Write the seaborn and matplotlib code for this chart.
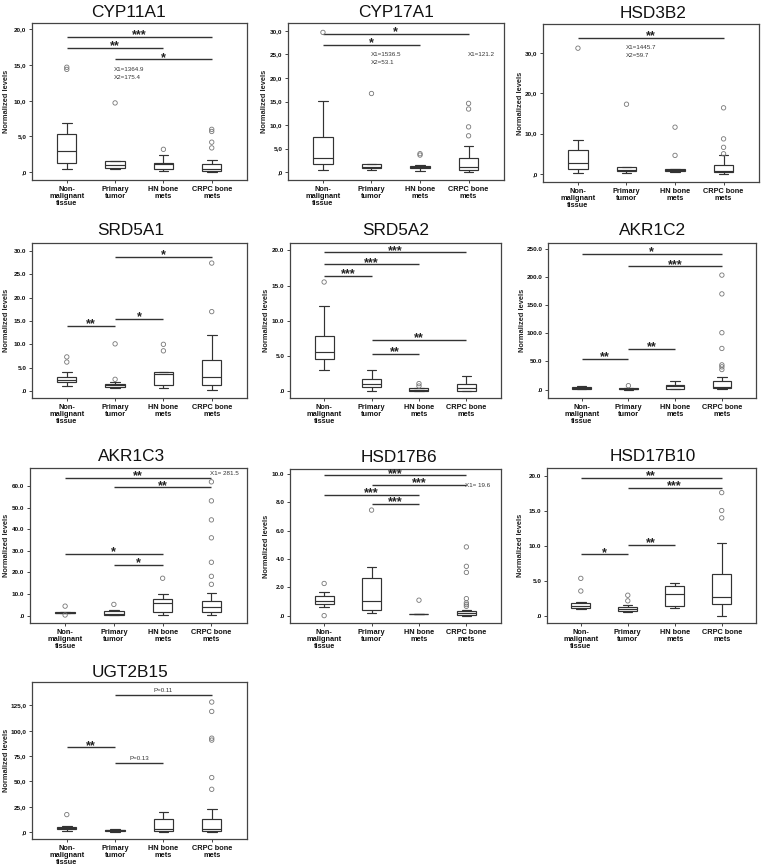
import numpy as np
import pandas as pd
import matplotlib
matplotlib.use("Agg")
import matplotlib.pyplot as plt
import seaborn as sns

# ---------------- data ----------------
groups = ["Non-\nmalignant\ntissue", "Primary\ntumor", "HN bone\nmets", "CRPC bone\nmets"]

# five-number summaries per group: [low whisker, Q1, median, Q3, high whisker]
CYP11A1_box = [[0.5, 1.3, 2.9, 5.4, 6.9], [0.5, 0.65, 1.0, 1.5, 1.5], [0.1, 0.4, 1.2, 1.3, 2.4], [0.0, 0.15, 0.5, 1.2, 1.65]]
CYP11A1_out = [[14.7, 14.4], [9.7], [3.2], [6.0, 5.7, 4.2, 3.4]]
CYP11A1_sig = [(0, 3, 19.0, "***"), (0, 2, 17.4, "**"), (1, 3, 15.8, "*")]
CYP11A1_notes = [(1, 14.4, "X1=1364.9"), (1, 13.3, "X2=175.4")]

CYP17A1_box = [[0.5, 1.6, 2.9, 7.4, 15.1], [0.5, 0.9, 1.0, 1.6, 1.6], [0.3, 0.8, 1.1, 1.3, 1.5], [0.0, 0.35, 1.0, 3.0, 5.5]]
CYP17A1_out = [[29.7], [16.7], [3.9, 3.6], [7.7, 9.6, 13.4, 14.6]]
CYP17A1_sig = [(0, 3, 29.4, "*"), (0, 2, 27.1, "*")]
CYP17A1_notes = [(1, 25.0, "X1=1536.5"), (1, 23.4, "X2=53.1"), (3, 25.0, "X1=121.2")]

HSD3B2_box = [[0.25, 1.3, 2.6, 6.0, 8.3], [0.35, 0.8, 1.1, 1.6, 1.6], [0.4, 0.65, 1.0, 1.3, 1.3], [0.05, 0.4, 0.8, 2.1, 4.6]]
HSD3B2_out = [[31.2], [17.3], [11.6, 4.6], [16.4, 8.7, 6.6, 5.0]]
HSD3B2_sig = [(0, 3, 33.8, "**")]
HSD3B2_notes = [(1, 31.4, "X1=1445.7"), (1, 29.4, "X2=59.7")]

SRD5A1_box = [[1.0, 1.85, 2.4, 2.9, 4.1], [0.7, 0.9, 1.2, 1.6, 2.0], [0.7, 1.3, 3.6, 4.0, 4.0], [0.3, 1.3, 3.1, 6.7, 11.9]]
SRD5A1_out = [[7.3, 6.2], [10.1, 2.5], [10.0, 8.6], [17.0, 27.4]]
SRD5A1_sig = [(1, 3, 28.7, "*"), (1, 2, 15.5, "*"), (0, 1, 14.0, "**")]
SRD5A1_notes = []

SRD5A2_box = [[3.0, 4.5, 5.6, 7.8, 12.05], [0.0, 0.6, 1.05, 1.75, 2.95], [0.0, 0.05, 0.2, 0.4, 0.4], [0.0, 0.05, 0.4, 1.0, 2.15]]
SRD5A2_out = [[15.5], [], [1.05, 0.7], []]
SRD5A2_sig = [(0, 3, 19.7, "***"), (0, 2, 18.0, "***"), (0, 1, 16.4, "***"), (1, 3, 7.3, "**"), (1, 2, 5.3, "**")]
SRD5A2_notes = []

AKR1C2_box = [[0.6, 1.8, 3.5, 4.8, 6.5], [0.1, 0.3, 1.0, 2.0, 2.5], [0.6, 1.8, 6.0, 8.9, 16.1], [0.5, 2.4, 5.4, 15.5, 22.6]]
AKR1C2_out = [[], [7.0], [], [203.6, 170.2, 101.2, 73.2, 44.0, 40.5, 35.7]]
AKR1C2_sig = [(0, 3, 241.7, "*"), (1, 3, 219.0, "***"), (1, 2, 72.0, "**"), (0, 1, 54.0, "**")]
AKR1C2_notes = []

AKR1C3_box = [[1.0, 1.2, 1.4, 1.7, 1.9], [0.1, 0.3, 0.6, 2.1, 2.4], [0.3, 1.8, 5.8, 7.7, 10.0], [0.3, 1.7, 4.0, 6.7, 10.7]]
AKR1C3_out = [[4.4, 0.3], [5.2], [17.3], [14.5, 18.2, 24.7, 36.0, 44.3, 53.1, 61.9]]
AKR1C3_sig = [(0, 3, 63.9, "**"), (1, 3, 59.3, "**"), (0, 2, 28.5, "*"), (1, 2, 23.4, "*")]
AKR1C3_notes = [(3, 65.9, "X1= 281.5")]

HSD17B6_box = [[0.6, 0.85, 1.0, 1.4, 1.65], [0.2, 0.4, 1.0, 2.67, 3.43], [0.08, 0.1, 0.12, 0.15, 0.15], [0.0, 0.07, 0.17, 0.33, 0.38]]
HSD17B6_out = [[2.27, 0.0], [7.45], [1.09], [0.66, 0.78, 0.9, 1.2, 3.05, 3.48, 4.85]]
HSD17B6_sig = [(0, 3, 9.9, "***"), (1, 3, 9.25, "***"), (0, 2, 8.53, "***"), (1, 2, 7.9, "***")]
HSD17B6_notes = [(3, 9.17, "X1= 19.6")]

HSD17B10_box = [[1.05, 1.2, 1.5, 1.9, 2.1], [0.6, 0.75, 1.05, 1.3, 1.6], [1.15, 1.5, 3.2, 4.3, 4.7], [0.0, 1.8, 2.7, 6.0, 10.4]]
HSD17B10_out = [[5.4, 3.6], [3.0, 2.2], [], [17.6, 15.05, 14.0]]
HSD17B10_sig = [(0, 3, 19.7, "**"), (1, 3, 18.3, "***"), (1, 2, 10.2, "**"), (0, 1, 8.8, "*")]
HSD17B10_notes = []

UGT2B15_box = [[0.7, 3.0, 4.0, 5.0, 5.9], [0.3, 0.7, 1.5, 2.3, 2.6], [0.3, 1.3, 2.6, 13.2, 20.1], [0.0, 1.3, 3.3, 12.5, 22.4]]
UGT2B15_out = [[17.2], [], [], [42.2, 53.8, 90.8, 92.7, 119.1, 128.4]]
UGT2B15_sig = [(1, 3, 135.3, "P=0.11"), (0, 1, 83.5, "**"), (1, 2, 68.3, "P=0.13")]
UGT2B15_notes = []

# ---------------- layout ----------------
sns.set_theme(style="white")
plt.rcParams["font.family"] = ["Liberation Sans", "DejaVu Sans"]

W, H = 764, 868
fig = plt.figure(figsize=(W / 100, H / 100), dpi=100)

panels = [
    # name, box, out, sig, notes, ylim, yticks, comma, (left, right, top, bottom) px, title x px, title pad, ylabel x px
    ("CYP11A1", CYP11A1_box, CYP11A1_out, CYP11A1_sig, CYP11A1_notes, (-1.1, 20.9), np.arange(0, 21, 5), True, (32, 247, 23, 180), 129, 4.3, 7),
    ("CYP17A1", CYP17A1_box, CYP17A1_out, CYP17A1_sig, CYP17A1_notes, (-1.7, 31.7), np.arange(0, 31, 5), True, (288, 504, 23, 180), 396, 4.3, 265),
    ("HSD3B2", HSD3B2_box, HSD3B2_out, HSD3B2_sig, HSD3B2_notes, (-2.0, 37.2), np.arange(0, 31, 10), True, (543, 759, 24, 182), 653, 4.3, 520),
    ("SRD5A1", SRD5A1_box, SRD5A1_out, SRD5A1_sig, SRD5A1_notes, (-1.5, 31.7), np.arange(0, 31, 5), False, (32, 247, 243, 398), 131, 5.5, 7),
    ("SRD5A2", SRD5A2_box, SRD5A2_out, SRD5A2_sig, SRD5A2_notes, (-1.0, 21.05), np.arange(0, 21, 5), False, (290, 501, 243, 398), 396, 5.5, 267),
    ("AKR1C2", AKR1C2_box, AKR1C2_out, AKR1C2_sig, AKR1C2_notes, (-14.9, 260.7), np.arange(0, 251, 50), False, (548, 756, 243, 398), 653, 5.5, 522),
    ("AKR1C3", AKR1C3_box, AKR1C3_out, AKR1C3_sig, AKR1C3_notes, (-3.4, 68.3), np.arange(0, 61, 10), False, (30, 247, 468, 623), 132, 5.0, 7),
    ("HSD17B6", HSD17B6_box, HSD17B6_out, HSD17B6_sig, HSD17B6_notes, (-0.52, 10.35), np.arange(0, 11, 2), False, (290, 501, 469, 623), 399, 5.0, 267),
    ("HSD17B10", HSD17B10_box, HSD17B10_out, HSD17B10_sig, HSD17B10_notes, (-0.95, 21.1), np.arange(0, 21, 5), False, (547, 756, 468, 623), 653, 5.0, 520),
    ("UGT2B15", UGT2B15_box, UGT2B15_out, UGT2B15_sig, UGT2B15_notes, (-6.9, 148.2), np.arange(0, 126, 25), True, (32, 247, 682, 839), 130, 3.5, 7),
]

EDGE = "#333333"


def fmt(v, comma):
    s = f"{v:.1f}"
    if s.startswith("0"):
        s = s[1:]
    return s.replace(".", ",") if comma else s


for (name, box, out, sig, notes, ylim, yticks, comma, rect, tx, tpad, ylx) in panels:
    l, r, t, b = rect
    ax = fig.add_axes([l / W, 1 - b / H, (r - l) / W, (b - t) / H])

    df = pd.DataFrame({
        "group": np.repeat(groups, 5),
        "value": np.concatenate([np.asarray(s, float) for s in box]),
    })
    sns.boxplot(data=df, x="group", y="value", order=groups, whis=(0, 100),
                width=0.4, color="white", linecolor=EDGE, linewidth=0.85,
                fliersize=0, ax=ax)

    ox = [gi for gi, vals in enumerate(out) for _ in vals]
    oy = [v for vals in out for v in vals]
    if oy:
        sns.scatterplot(x=ox, y=oy, ax=ax, marker="o", s=10, color="#777777",
                        edgecolor="#777777", linewidth=0.6, zorder=5)
        ax.collections[-1].set_facecolor("none")

    for (i, j, y, lab) in sig:
        ax.plot([i, j], [y, y], color=EDGE, lw=1.0, solid_capstyle="butt")
        if lab.startswith("P"):
            ax.annotate(lab, xy=((i + j) / 2, y), xytext=(0, 1.2), textcoords="offset points",
                        ha="center", va="bottom", fontsize=4.4, color=EDGE)
        else:
            ax.annotate(lab, xy=((i + j) / 2, y), xytext=(0, -1.0), textcoords="offset points",
                        ha="center", va="baseline", fontsize=9, fontweight="bold", color="#222222")

    for (xg, y, lab) in notes:
        ax.text(xg - 0.02, y, lab, ha="left", va="center", fontsize=4.5, color=EDGE)

    ax.set_xlim(-0.72, 3.73)
    ax.set_ylim(*ylim)
    ax.set_yticks(yticks)
    ax.set_yticklabels([fmt(v, comma) for v in yticks], fontsize=4.6, fontweight="bold")
    ax.set_xticks(range(4))
    ax.set_xticklabels(groups, fontsize=5.3, fontweight="bold", linespacing=1.05)
    ax.set_xlabel("")
    ax.set_ylabel("Normalized levels", fontsize=5.4, fontweight="bold")
    ax.yaxis.set_label_coords((ylx + 3.5 - l) / (r - l), 0.5)
    ax.tick_params(axis="both", which="major", direction="out", length=2.5, width=0.7,
                   color="#444444", pad=1.5, left=True, bottom=True, labelcolor="#111111")
    for sp in ax.spines.values():
        sp.set_visible(True)
        sp.set_color("#444444")
        sp.set_linewidth(0.9)
    ax.set_title(name, x=(tx - l) / (r - l), pad=tpad, fontsize=12.4, color="#111111")

fig.savefig("out.png", dpi=100, facecolor="white")
